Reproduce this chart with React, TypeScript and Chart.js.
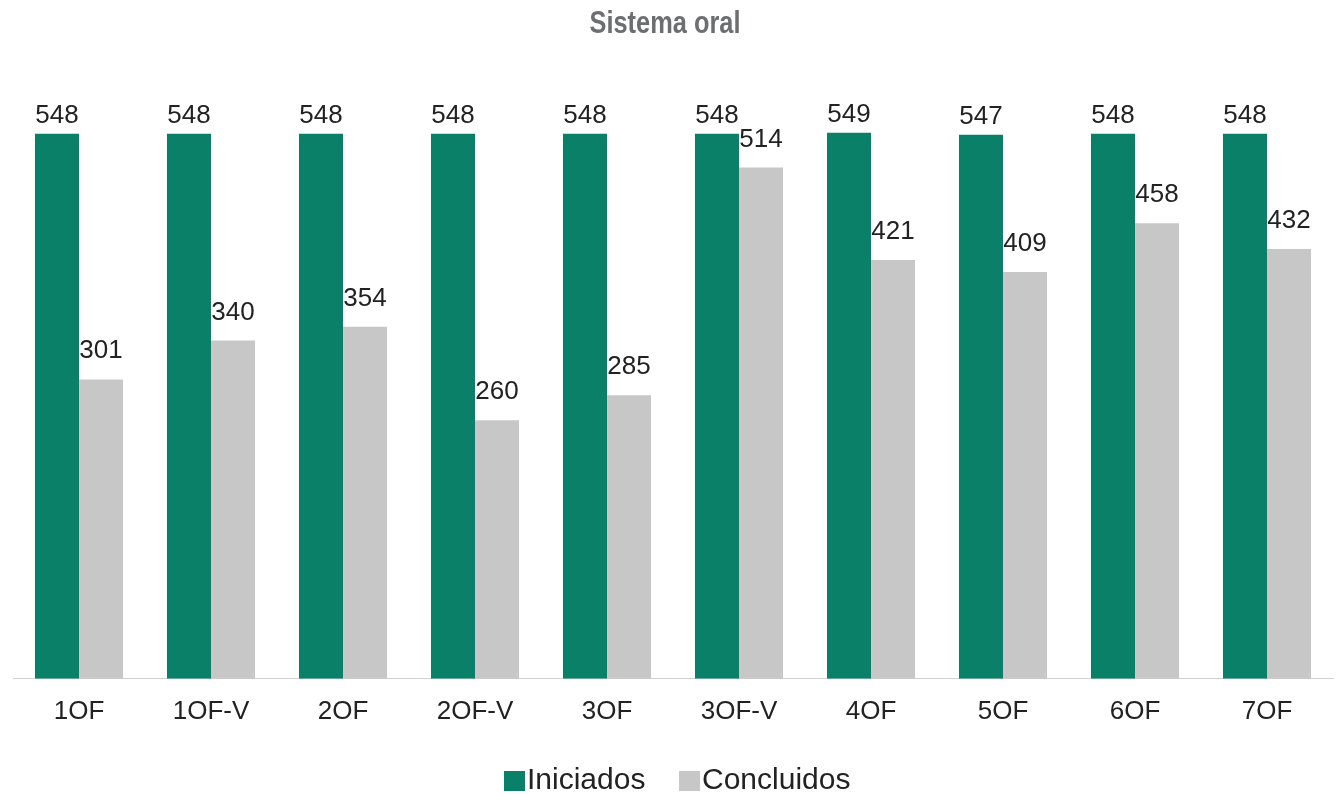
import React, { useEffect, useRef } from "react";
import { Chart, registerables } from "chart.js";

Chart.register(...registerables);

const categories = ["1OF", "1OF-V", "2OF", "2OF-V", "3OF", "3OF-V", "4OF", "5OF", "6OF", "7OF"];
const iniciados = [548, 548, 548, 548, 548, 548, 549, 547, 548, 548];
const concluidos = [301, 340, 354, 260, 285, 514, 421, 409, 458, 432];
const titleText = "Sistema oral";
const seriesNames = ["Iniciados", "Concluidos"];
const GREEN = "#0b8068";
const GRAY = "#c7c7c7";

const overlayPlugin = {
  id: "overlay",
  afterDatasetsDraw(chart: any) {
    const ctx = chart.ctx;
    ctx.save();
    ctx.font = "26px 'Liberation Sans', Arial, sans-serif";
    ctx.fillStyle = "#222222";
    ctx.textAlign = "center";
    ctx.textBaseline = "alphabetic";
    chart.data.datasets.forEach((ds: any, di: number) => {
      const meta = chart.getDatasetMeta(di);
      meta.data.forEach((el: any, i: number) => {
        const off = di === 0 ? 11 : 21;
        ctx.fillText(String(ds.data[i]), el.x, el.y - off);
      });
    });
    // title (condensed by horizontal scaling)
    ctx.save();
    ctx.font = "bold 31px 'Liberation Sans', Arial, sans-serif";
    ctx.fillStyle = "#6d6e71";
    ctx.textBaseline = "alphabetic";
    ctx.textAlign = "center";
    const w = ctx.measureText(titleText).width;
    const sx = 151 / w;
    ctx.translate(665, 33);
    ctx.scale(sx, 1);
    ctx.fillText(titleText, 0, 0);
    ctx.restore();
    // legend
    ctx.font = "30px 'Liberation Sans', Arial, sans-serif";
    ctx.textAlign = "left";
    ctx.textBaseline = "middle";
    const ly = 781;
    ctx.fillStyle = GREEN;
    ctx.fillRect(504, ly - 10, 21, 20);
    ctx.fillStyle = "#222222";
    ctx.fillText(seriesNames[0], 527, ly);
    ctx.fillStyle = GRAY;
    ctx.fillRect(679, ly - 10, 21, 20);
    ctx.fillStyle = "#222222";
    ctx.fillText(seriesNames[1], 702, ly);
    ctx.restore();
  },
};

export default function App() {
  const ref = useRef<HTMLCanvasElement>(null);
  useEffect(() => {
    if (!ref.current) return;
    const chart = new Chart(ref.current, {
      type: "bar",
      data: {
        labels: categories,
        datasets: [
          { label: seriesNames[0], data: iniciados, backgroundColor: GREEN, categoryPercentage: 0.667, barPercentage: 1 },
          { label: seriesNames[1], data: concluidos, backgroundColor: GRAY, categoryPercentage: 0.667, barPercentage: 1 },
        ],
      },
      options: {
        responsive: false,
        animation: false,
        layout: { padding: { top: 82, left: 13, right: 5, bottom: 51 } },
        plugins: {
          legend: { display: false },
          title: { display: false },
          tooltip: { enabled: false },
        },
        scales: {
          x: {
            grid: { display: false, drawTicks: false },
            border: { display: true, color: "#d2d2d2", width: 1 },
            ticks: {
              padding: 17,
              color: "#222222",
              font: { family: "'Liberation Sans', Arial, sans-serif", size: 26 },
              maxRotation: 0,
            },
          },
          y: {
            display: false,
            min: 0,
            max: 600,
          },
        },
      },
      plugins: [overlayPlugin],
    });
    return () => chart.destroy();
  }, []);
  return (
    <div style={{ position: "fixed", left: 0, top: 0, width: 1338, height: 795, background: "#ffffff" }}>
      <canvas ref={ref} width={1338} height={795} style={{ display: "block" }} />
    </div>
  );
}
